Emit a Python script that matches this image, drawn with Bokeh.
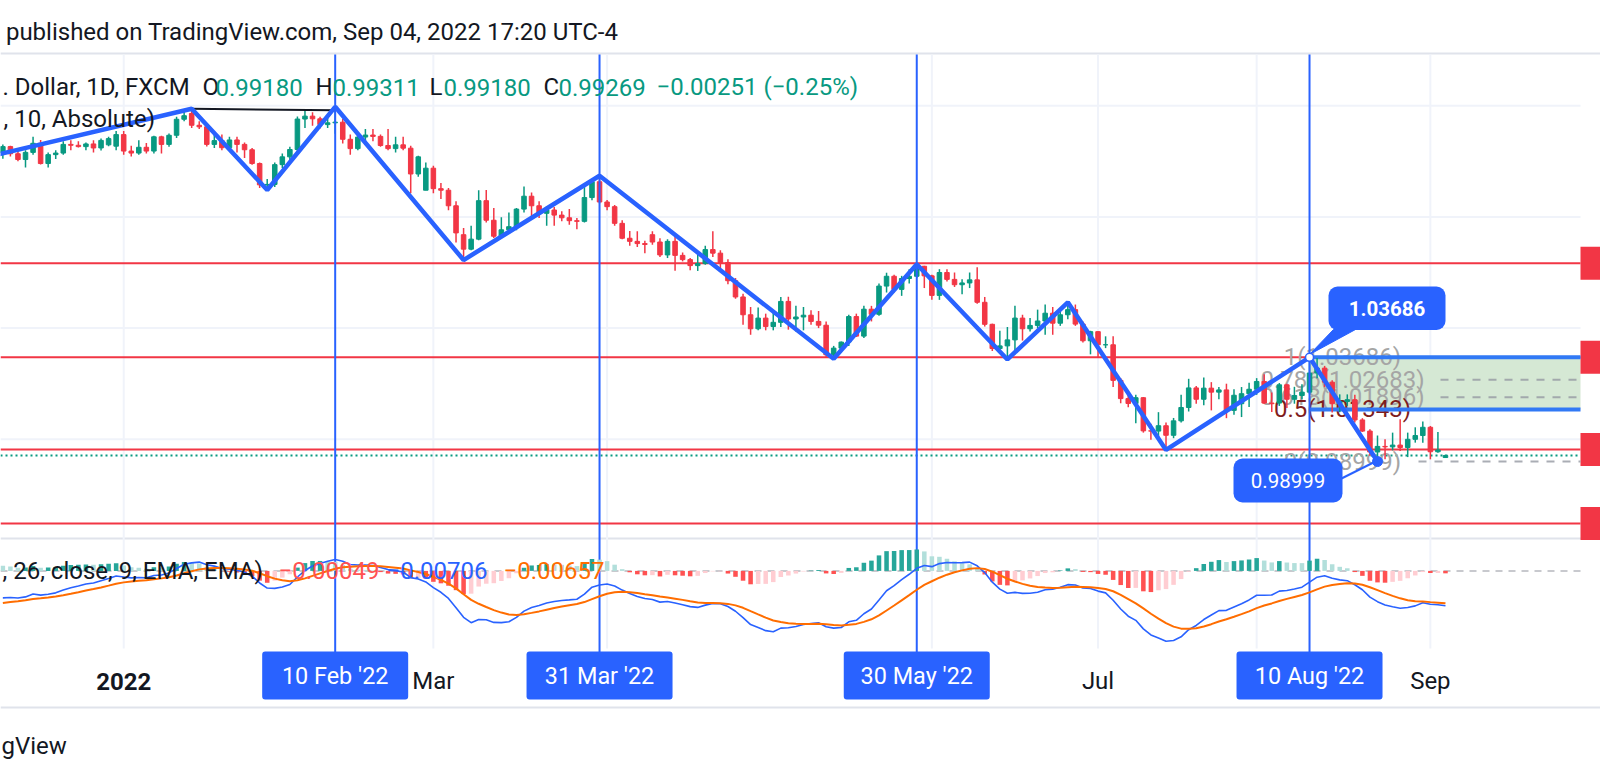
import numpy as np
import pandas as pd
from bokeh.plotting import figure
from bokeh.models import Range1d
from bokeh.embed import file_html
from bokeh.resources import INLINE
from bokeh.core.properties import value

# ---------------- data ----------------
dates = pd.bdate_range("2021-12-10", "2022-09-05")

opens = [
    1.1290, 1.1316, 1.1284, 1.1258, 1.1290, 1.1331, 1.1240, 1.1280, 1.1287, 1.1326, 1.1322, 1.1316, 1.1328, 1.1310, 1.1324, 1.1318,
    1.1370, 1.1296, 1.1287, 1.1313, 1.1296, 1.1360, 1.1326, 1.1367, 1.1439, 1.1465, 1.1412, 1.1405, 1.1326, 1.1343, 1.1311,
    1.1346, 1.1326, 1.1302, 1.1240, 1.1144, 1.1146,
    1.1235, 1.1270, 1.1303, 1.1440, 1.1453, 1.1441, 1.1415, 1.1423, 1.1426, 1.1349, 1.1307, 1.1359, 1.1368, 1.1362,
    1.1321, 1.1307, 1.1324, 1.1309, 1.1193, 1.1120,
    1.1219, 1.1127, 1.1120, 1.1050, 1.0920, 1.0855, 1.0900, 1.1073, 1.0985, 1.0913, 1.0942, 1.0956, 1.1035, 1.1093,
    1.1050, 1.1016, 1.1031, 1.1008, 1.0996, 1.0983, 1.0980, 1.1087, 1.1158,
    1.1067, 1.1046, 1.0971, 1.0904, 1.0890, 1.0880, 1.0920, 1.0887, 1.0829, 1.0890, 1.0827, 1.0808, 1.0781, 1.0790, 1.0853,
    1.0837, 1.0795, 1.0713, 1.0640, 1.0560, 1.0497,
    1.0545, 1.0507, 1.0526, 1.0620, 1.0541, 1.0550, 1.0558, 1.0530, 1.0513, 1.0380, 1.0410, 1.0437, 1.0552, 1.0464, 1.0585,
    1.0562, 1.0689, 1.0733, 1.0674, 1.0723, 1.0733, 1.0778,
    1.0735, 1.0647, 1.0750, 1.0719, 1.0695, 1.0703, 1.0717, 1.0616, 1.0517, 1.0408, 1.0420, 1.0447, 1.0545,
    1.0497, 1.0512, 1.0532, 1.0567, 1.0522, 1.0560, 1.0583, 1.0518, 1.0443,
    1.0484, 1.0425, 1.0425, 1.0265, 1.0183, 1.0161, 1.0187, 1.0038, 1.0037, 1.0061, 1.0018,
    1.0083, 1.0143, 1.0231, 1.0180, 1.0230, 1.0212, 1.0222, 1.0130, 1.0160, 1.0205,
    1.0225, 1.0260, 1.0163, 1.0163, 1.0245, 1.0180, 1.0197, 1.0212, 1.0298, 1.0320, 1.0257, 1.0160, 1.0170, 1.0178, 1.0087,
    1.0037, 0.9943, 0.9968, 0.9966, 0.9974, 0.9963, 1.0000, 1.0017,
    1.0054, 0.9944, 0.9918,
]
highs = [
    1.1325, 1.1320, 1.1300, 1.1300, 1.1360, 1.1346, 1.1290, 1.1300, 1.1340, 1.1345, 1.1340, 1.1335, 1.1345, 1.1352, 1.1360, 1.1386,
    1.1386, 1.1320, 1.1345, 1.1332, 1.1365, 1.1365, 1.1375, 1.1450, 1.1482, 1.1486, 1.1430, 1.1410, 1.1370, 1.1370, 1.1360,
    1.1360, 1.1335, 1.1310, 1.1245, 1.1170, 1.1245,
    1.1285, 1.1315, 1.1451, 1.1483, 1.1470, 1.1450, 1.1448, 1.1495, 1.1440, 1.1370, 1.1370, 1.1395, 1.1395, 1.1370,
    1.1395, 1.1360, 1.1360, 1.1320, 1.1275, 1.1245,
    1.1230, 1.1152, 1.1130, 1.1070, 1.0950, 1.0960, 1.1120, 1.1121, 1.1040, 1.0998, 1.1020, 1.1040, 1.1137, 1.1110,
    1.1070, 1.1048, 1.1045, 1.1025, 1.1035, 1.0995, 1.1137, 1.1170, 1.1185,
    1.1076, 1.1054, 1.0985, 1.0937, 1.0935, 1.0893, 1.0935, 1.0904, 1.0900, 1.0924, 1.0840, 1.0815, 1.0830, 1.0870, 1.0936,
    1.0850, 1.0810, 1.0725, 1.0655, 1.0595, 1.0593,
    1.0565, 1.0575, 1.0640, 1.0641, 1.0600, 1.0595, 1.0580, 1.0577, 1.0530, 1.0420, 1.0440, 1.0560, 1.0565, 1.0600, 1.0600,
    1.0700, 1.0749, 1.0740, 1.0735, 1.0765, 1.0787, 1.0780,
    1.0740, 1.0765, 1.0765, 1.0750, 1.0720, 1.0750, 1.0774, 1.0640, 1.0520, 1.0488, 1.0505, 1.0601, 1.0560,
    1.0545, 1.0583, 1.0606, 1.0595, 1.0575, 1.0616, 1.0606, 1.0530, 1.0488,
    1.0486, 1.0463, 1.0463, 1.0275, 1.0218, 1.0200, 1.0190, 1.0070, 1.0122, 1.0075, 1.0096,
    1.0200, 1.0272, 1.0240, 1.0278, 1.0257, 1.0235, 1.0250, 1.0225, 1.0235, 1.0254,
    1.0275, 1.0293, 1.0210, 1.0253, 1.0250, 1.0236, 1.0248, 1.03686, 1.0365, 1.0330, 1.0266, 1.0202, 1.0202, 1.0200, 1.0095,
    1.0045, 1.0017, 1.0000, 1.0030, 1.0090, 1.0030, 1.0054, 1.0080,
    1.0060, 1.0033, 0.99311,
]
lows = [
    1.1262, 1.1272, 1.1250, 1.1222, 1.1280, 1.1236, 1.1222, 1.1260, 1.1280, 1.1300, 1.1312, 1.1300, 1.1290, 1.1298, 1.1318, 1.1300,
    1.1280, 1.1272, 1.1280, 1.1285, 1.1285, 1.1285, 1.1315, 1.1355, 1.1430, 1.1400, 1.1395, 1.1316, 1.1310, 1.1300, 1.1300,
    1.1290, 1.1265, 1.1235, 1.1130, 1.1121, 1.1135,
    1.1220, 1.1255, 1.1280, 1.1400, 1.1410, 1.1397, 1.1400, 1.1374, 1.1330, 1.1280, 1.1300, 1.1340, 1.1340, 1.1315,
    1.1300, 1.1290, 1.1300, 1.1106, 1.1180, 1.1120,
    1.1106, 1.1080, 1.1030, 1.0885, 1.0806, 1.0850, 1.0895, 1.0975, 1.0905, 1.0905, 1.0925, 1.0940, 1.1020, 1.1003,
    1.0995, 1.0960, 1.0960, 1.0980, 1.0965, 1.0945, 1.0975, 1.1075, 1.1060,
    1.1030, 1.0960, 1.0900, 1.0870, 1.0865, 1.0837, 1.0875, 1.0820, 1.0815, 1.0758, 1.0800, 1.0760, 1.0757, 1.0785, 1.0820,
    1.0770, 1.0697, 1.0632, 1.0515, 1.0470, 1.0490,
    1.0490, 1.0490, 1.0505, 1.0493, 1.0485, 1.0490, 1.0515, 1.0500, 1.0365, 1.0362, 1.0390, 1.0420, 1.0460, 1.0455, 1.0530,
    1.0555, 1.0660, 1.0660, 1.0645, 1.0700, 1.0725, 1.0680,
    1.0627, 1.0627, 1.0710, 1.0685, 1.0652, 1.0680, 1.0610, 1.0507, 1.0397, 1.0384, 1.0359, 1.0382, 1.0444,
    1.0485, 1.0500, 1.0470, 1.0470, 1.0510, 1.0540, 1.0510, 1.0435, 1.0382,
    1.0365, 1.0410, 1.0235, 1.0162, 1.0144, 1.0072, 1.0030, 0.9998, 0.9998, 0.9952, 1.0005,
    1.0075, 1.0125, 1.0160, 1.0153, 1.0130, 1.0180, 1.0095, 1.0110, 1.0100, 1.0145,
    1.0200, 1.0160, 1.0123, 1.0150, 1.0141, 1.0160, 1.0180, 1.0203, 1.0275, 1.0235, 1.0120, 1.0122, 1.0150, 1.0075, 1.0033,
    0.9926, 0.98999, 0.9910, 0.9950, 0.9947, 0.9920, 0.9985, 0.9985,
    0.9910, 0.9940, 0.9918,
]
closes = [
    1.1316, 1.1284, 1.1258, 1.1290, 1.1331, 1.1240, 1.1280, 1.1287, 1.1326, 1.1322, 1.1316, 1.1328, 1.1310, 1.1344, 1.1352, 1.1370,
    1.1296, 1.1287, 1.1313, 1.1296, 1.1360, 1.1326, 1.1367, 1.1439, 1.1455, 1.1412, 1.1405, 1.1326, 1.1343, 1.1311, 1.1346,
    1.1326, 1.1302, 1.1240, 1.1144, 1.1146, 1.1235,
    1.1270, 1.1303, 1.1440, 1.1453, 1.1441, 1.1415, 1.1423, 1.1426, 1.1349, 1.1307, 1.1359, 1.1368, 1.1362, 1.1321,
    1.1307, 1.1324, 1.1309, 1.1193, 1.1270, 1.1219,
    1.1127, 1.1120, 1.1050, 1.0928, 1.0855, 1.0900, 1.1073, 1.0985, 1.0913, 1.0942, 1.0956, 1.1035, 1.1093, 1.1050,
    1.1016, 1.1031, 1.1008, 1.0996, 1.0983, 1.0980, 1.1087, 1.1158, 1.1067,
    1.1046, 1.0971, 1.0904, 1.0890, 1.0880, 1.0876, 1.0887, 1.0829, 1.0890, 1.0827, 1.0808, 1.0781, 1.0790, 1.0853, 1.0837,
    1.0795, 1.0713, 1.0640, 1.0560, 1.0497, 1.0545,
    1.0507, 1.0526, 1.0620, 1.0541, 1.0550, 1.0558, 1.0530, 1.0513, 1.0380, 1.0410, 1.0437, 1.0552, 1.0464, 1.0585, 1.0562,
    1.0689, 1.0733, 1.0674, 1.0723, 1.0733, 1.0778, 1.0735,
    1.0647, 1.0750, 1.0719, 1.0695, 1.0703, 1.0717, 1.0616, 1.0517, 1.0408, 1.0420, 1.0447, 1.0545, 1.0497,
    1.0512, 1.0532, 1.0567, 1.0522, 1.0560, 1.0583, 1.0518, 1.0443, 1.0484,
    1.0425, 1.0425, 1.0265, 1.0183, 1.0161, 1.0187, 1.0038, 1.0037, 1.0061, 1.0018, 1.0083,
    1.0143, 1.0231, 1.0180, 1.0230, 1.0212, 1.0222, 1.0130, 1.0198, 1.0205, 1.0225,
    1.0260, 1.0163, 1.0160, 1.0245, 1.0180, 1.0197, 1.0212, 1.0298, 1.0320, 1.0257, 1.0160, 1.0170, 1.0178, 1.0087, 1.0037,
    0.9943, 0.9968, 0.9966, 0.9974, 0.9963, 1.0000, 1.0017, 1.0054,
    0.9944, 0.9952, 0.99269,
]
assert len(opens) == len(highs) == len(lows) == len(closes) == len(dates)

# zigzag pivots
zz_dates = ["2021-12-06", "2022-01-14", "2022-01-28", "2022-02-10", "2022-03-07", "2022-03-31",
            "2022-05-13", "2022-05-30", "2022-06-15", "2022-06-27", "2022-07-14", "2022-08-10", "2022-08-23"]
zz_prices = [1.1254, 1.1486, 1.1121, 1.1495, 1.0806, 1.1185, 1.0362, 1.0787, 1.0359, 1.0616, 0.9952, 1.03686, 0.98999]
# black trend line
trend_dates = ["2022-01-14", "2022-02-10"]
trend_prices = [1.1486, 1.1479]
# horizontal red levels
red_levels = [1.0792, 1.0369, 0.9954, 0.9621]
price_grid = [1.15, 1.10, 1.05, 1.00]
last_price = 0.99269
# fibonacci retracement
fib_anchor = "2022-08-10"
fib_prices = [1.03686, 1.02683, 1.01896, 1.01343, 0.98999]
fib_texts = ["1(1.03686)", "0.786(1.02683)", "0.618(1.01896)", "0.5(1.01343)", "0(0.98999)"]
fib_colors = ["#a5a5a5", "#a5a5a5", "#a5a5a5", "#7f1d1d", "#a5a5a5"]
fib_box = (1.01343, 1.03686)
# time axis
month_ticks = ["2022-01-03", "2022-03-01", "2022-04-01", "2022-06-01", "2022-07-01", "2022-08-01", "2022-09-01"]
tick_labels = {"2022-01-03": "2022", "2022-03-01": "Mar", "2022-07-01": "Jul", "2022-09-01": "Sep"}
marker_dates = ["2022-02-10", "2022-03-31", "2022-05-30", "2022-08-10"]
marker_texts = ["10 Feb '22", "31 Mar '22", "30 May '22", "10 Aug '22"]
# callouts
hi_date, hi_text = "2022-08-10", "1.03686"
lo_date, lo_text = "2022-08-23", "0.98999"
# MACD state carried in from before the visible window (EMA12, EMA26, signal)
EMA12_SEED, EMA26_SEED, SIG_SEED = 1.1330, 1.1388, -0.0068
macd_legend = [("−0.00049", "#ff5252"), ("−0.00706", "#2962ff"), ("−0.00657", "#ff6d00")]

# ---------------- geometry ----------------
BASE = np.datetime64("2022-01-03")
def di(d):
    return float(np.busday_count(BASE, np.datetime64(d)))

W, H = 1600, 778
BAR_PX, BASE_PX = 7.553, 123.2          # pixel pitch of one bar, pixel x of 3 Jan 2022
PRICE_PX, ONE_PX = 2224.0, 438.8         # pixels per 1.0 of price, pixel y of 1.0000
MACD_PX, MACD_ZERO = 4915.0, 570.4

def bx(px):
    return (px - BASE_PX) / BAR_PX

def py(yy):
    return 1.0 + (ONE_PX - yy) / PRICE_PX

CH_R = bx(1580)
FONT = value("Roboto")
FS = "24px"
BLUE = "#2962ff"
UP, DN = "#089981", "#f23645"
INK = "#131722"

p = figure(width=W, height=H, output_backend="svg", toolbar_location=None,
           x_axis_type=None, y_axis_type=None, min_border=0,
           x_range=Range1d(bx(0), bx(W)), y_range=Range1d(py(H), py(0)))
p.outline_line_color = None
p.background_fill_color = "white"
p.border_fill_color = "white"
p.extra_y_ranges = {
    "scr": Range1d(-H, 0),
    "macd": Range1d(-(H - MACD_ZERO) / MACD_PX, MACD_ZERO / MACD_PX),
}

# pane separators
for yy in (53, 538, 707):
    p.segment(x0=bx(0), x1=bx(W), y0=-yy, y1=-yy, y_range_name="scr", line_color="#e0e3eb", line_width=2)

# grid
mt = [di(d) for d in month_ticks]
p.segment(x0=mt, x1=mt, y0=-54, y1=-648, y_range_name="scr", line_color="#f0f3fa", line_width=2)
p.segment(x0=bx(0), x1=CH_R, y0=price_grid, y1=price_grid, line_color="#f0f3fa", line_width=2)

# fib box
fx = di(fib_anchor)
p.quad(left=fx, right=CH_R, bottom=fib_box[0], top=fib_box[1], fill_color="#d5e8d4", line_color=None)

# red horizontal levels + price scale markers
p.segment(x0=bx(0), x1=CH_R, y0=red_levels, y1=red_levels, line_color="#f23645", line_width=2)
half = 16.5 / PRICE_PX
p.quad(left=CH_R, right=bx(W + 10), bottom=[v - half for v in red_levels], top=[v + half for v in red_levels],
       fill_color="#f23645", line_color=None)

# last price dotted line
p.segment(x0=bx(0), x1=CH_R, y0=last_price, y1=last_price, line_color=UP, line_width=2, line_dash="2 3")

# fib labels and dashed levels
p.text(x=[bx(1342)] * len(fib_prices), y=fib_prices, text=fib_texts, text_color=fib_colors,
       text_align="center", text_baseline="middle", text_font=FONT, text_font_size=FS)
p.segment(x0=[bx(1440), bx(1440), bx(1418)], x1=CH_R, y0=[fib_prices[1], fib_prices[2], fib_prices[4]],
          y1=[fib_prices[1], fib_prices[2], fib_prices[4]], line_color="#9598a1", line_width=2, line_dash="8 8",
          line_alpha=0.8)
p.segment(x0=fx, x1=CH_R, y0=[fib_prices[0], fib_prices[3]], y1=[fib_prices[0], fib_prices[3]],
          line_color="#3179f5", line_width=4)

# candles
xi = np.busday_count(BASE, dates.values.astype("datetime64[D]")).astype(float)
o, h, l, c = map(np.array, (opens, highs, lows, closes))
col = np.where(c >= o, UP, DN).tolist()
p.segment(x0=xi, x1=xi, y0=l, y1=h, line_color=col, line_width=1.5)
p.vbar(x=xi, width=0.6, bottom=np.minimum(o, c), top=np.maximum(o, c), fill_color=col, line_color=col, line_width=1)

# trend line + zigzag
p.line([di(d) for d in trend_dates], trend_prices, line_color=INK, line_width=2)
p.line([di(d) for d in zz_dates], zz_prices, line_color=BLUE, line_width=4.5)

# vertical date lines
mk = [di(d) for d in marker_dates]
p.segment(x0=mk, x1=mk, y0=-54, y1=-652, y_range_name="scr", line_color=BLUE, line_width=2)

# MACD
a12, a26, a9 = 2 / 13, 2 / 27, 2 / 10
e12, e26, sg = EMA12_SEED, EMA26_SEED, SIG_SEED
macd, sig = [], []
for v in closes:
    e12 = a12 * v + (1 - a12) * e12
    e26 = a26 * v + (1 - a26) * e26
    m = e12 - e26
    sg = a9 * m + (1 - a9) * sg
    macd.append(m)
    sig.append(sg)
macd, sig = np.array(macd), np.array(sig)
hist = macd - sig
hcol = []
for k, hv in enumerate(hist):
    prev = hist[k - 1] if k else hv
    if hv >= 0:
        hcol.append("#26a69a" if hv > prev else "#b2dfdb")
    else:
        hcol.append("#ffcdd2" if hv > prev else "#ff5252")
p.segment(x0=bx(0), x1=CH_R, y0=0, y1=0, y_range_name="macd", line_color="#9598a1", line_width=1.5,
          line_dash="7 6", line_alpha=0.7)
p.vbar(x=xi, width=0.6, bottom=0, top=hist, fill_color=hcol, line_color=None, y_range_name="macd")
p.line(xi, macd, line_color=BLUE, line_width=1.6, y_range_name="macd")
p.line(xi, sig, line_color="#ff6d00", line_width=2, y_range_name="macd")

# callouts
hx = di(hi_date)
p.patch(x=[bx(1333), bx(1355), hx], y=[-329, -329, -354], y_range_name="scr", fill_color=BLUE, line_color=BLUE)
p.quad(left=bx(1328), right=bx(1445), top=-286, bottom=-329.5, y_range_name="scr", fill_color=BLUE,
       line_color=None, border_radius=9)
p.text(x=[bx(1386.5)], y=[-307.7], text=[hi_text], y_range_name="scr", text_color="white", text_align="center",
       text_baseline="middle", text_font=FONT, text_font_size="20.5px", text_font_style="bold")
p.scatter(x=[hx], y=[fib_prices[0]], size=8, fill_color="white", line_color=BLUE, line_width=1.5)

lx = di(lo_date)
p.segment(x0=bx(1341), x1=lx, y0=-478, y1=-460, y_range_name="scr", line_color=BLUE, line_width=2)
p.quad(left=bx(1233), right=bx(1342), top=-458, bottom=-502, y_range_name="scr", fill_color=BLUE,
       line_color=None, border_radius=9)
p.text(x=[bx(1287.5)], y=[-480], text=[lo_text], y_range_name="scr", text_color="white", text_align="center",
       text_baseline="middle", text_font=FONT, text_font_size="20.5px")
p.scatter(x=[lx], y=[zz_prices[-1]], size=10, fill_color=BLUE, line_color=BLUE)

# time axis labels
tl_x = [di(d) for d in tick_labels]
tl_t = list(tick_labels.values())
p.text(x=tl_x[:1], y=[-680.5], text=tl_t[:1], y_range_name="scr", text_color=INK, text_align="center",
       text_baseline="middle", text_font=FONT, text_font_size=FS, text_font_style="bold")
p.text(x=tl_x[1:], y=[-680.5] * (len(tl_x) - 1), text=tl_t[1:], y_range_name="scr", text_color=INK,
       text_align="center", text_baseline="middle", text_font=FONT, text_font_size=FS)

# date boxes on axis
p.quad(left=[m - 73 / BAR_PX for m in mk], right=[m + 73 / BAR_PX for m in mk], top=-651, bottom=-699,
       y_range_name="scr", fill_color=BLUE, line_color=None, border_radius=3)
p.text(x=mk, y=[-675.5] * len(mk), text=marker_texts, y_range_name="scr", text_color="white",
       text_align="center", text_baseline="middle", text_font=FONT, text_font_size="23.4px")

# header / legends / footer
p.text(x=[bx(5.4)], y=[-31], text=["published on TradingView.com, Sep 04, 2022 17:20 UTC-4"], y_range_name="scr",
       text_color=INK, text_baseline="middle", text_font=FONT, text_font_size=FS)
leg_x = [2, 202, 215, 315, 332, 429, 443, 543, 558, 656]
leg_t = [". Dollar, 1D, FXCM", "O", "0.99180", "H", "0.99311", "L", "0.99180", "C", "0.99269", "−0.00251 (−0.25%)"]
leg_c = [INK, INK, UP, INK, UP, INK, UP, INK, UP, UP]
p.text(x=[bx(v) for v in leg_x], y=[-86.5] * len(leg_x), text=leg_t, text_color=leg_c, y_range_name="scr",
       text_baseline="middle", text_font=FONT, text_font_size=FS)
p.text(x=[bx(3)], y=[-118], text=[", 10, Absolute)"], y_range_name="scr", text_color=INK,
       text_baseline="middle", text_font=FONT, text_font_size=FS)
p.text(x=[bx(2)], y=[-570], text=[", 26, close, 9, EMA, EMA)"], y_range_name="scr", text_color=INK,
       text_baseline="middle", text_font=FONT, text_font_size=FS)
p.text(x=[bx(278), bx(386), bx(503)], y=[-570] * 3, text=[t for t, _ in macd_legend],
       text_color=[cc for _, cc in macd_legend], y_range_name="scr", text_baseline="middle",
       text_font=FONT, text_font_size=FS)
p.text(x=[bx(1)], y=[-745], text=["gView"], y_range_name="scr", text_color=INK,
       text_baseline="middle", text_font=FONT, text_font_size="24px")

open("out.html", "w").write(file_html(p, INLINE, "EURUSD"))
